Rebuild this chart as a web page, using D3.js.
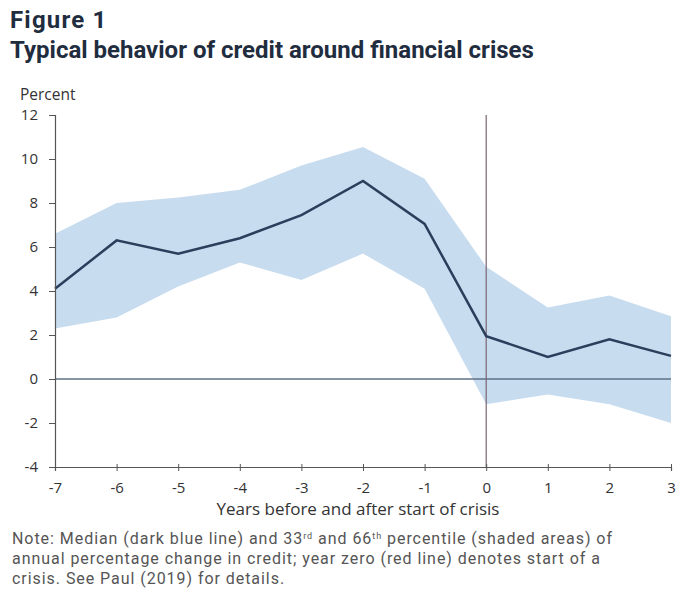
<!DOCTYPE html>
<html lang="en">
<head>
  <meta charset="UTF-8" />
  <title>Typical behavior of credit around financial crises</title>
  <script src="https://d3js.org/d3.v7.min.js"></script>
  <style>
    body { margin: 0; background: #fff; }
    svg { display: block; font-family: "Open Sans", Roboto, sans-serif; }
  </style>
</head>
<body>
  <svg id="chart" width="676" height="594"></svg>
  <script>
    // Data
    const years = [-7, -6, -5, -4, -3, -2, -1, 0, 1, 2, 3];
    const median = [4.1, 6.3, 5.7, 6.4, 7.45, 9.0, 7.05, 1.95, 1.0, 1.8, 1.05];
    const p66 = [6.6, 8.0, 8.25, 8.6, 9.7, 10.55, 9.1, 5.1, 3.25, 3.8, 2.85];
    const p33 = [2.3, 2.8, 4.2, 5.3, 4.5, 5.7, 4.1, -1.15, -0.7, -1.15, -2.0];
    const yTicks = [-4, -2, 0, 2, 4, 6, 8, 10, 12];

    const svg = d3.select("#chart"),
          margin = {top: 115, right: 5, bottom: 127, left: 55},
          width = 676 - margin.left - margin.right,
          height = 594 - margin.top - margin.bottom;

    const data = years.map((y, i) => ({year: y, med: median[i], lo: p33[i], hi: p66[i]}));

    const x = d3.scaleLinear().domain([-7, 3]).range([0, width]);
    const y = d3.scaleLinear().domain([-4, 12]).range([height, 0]);

    const chart = svg.append("g")
        .attr("transform", `translate(${margin.left},${margin.top})`);

    // Shaded band (33rd-66th percentile)
    chart.append("path")
        .datum(data)
        .attr("fill", "#c8dcef")
        .attr("d", d3.area()
          .x(d => x(d.year))
          .y0(d => y(d.lo))
          .y1(d => y(d.hi)));

    // Zero line
    chart.append("line")
        .attr("x1", 0).attr("x2", width)
        .attr("y1", y(0)).attr("y2", y(0))
        .attr("stroke", "#5f7086")
        .attr("stroke-width", 1.5);

    // Crisis start line
    chart.append("line")
        .attr("x1", x(0)).attr("x2", x(0))
        .attr("y1", 0).attr("y2", height)
        .attr("stroke", "#7a6470")
        .attr("stroke-width", 1.2);

    // Median line
    chart.append("path")
        .datum(data)
        .attr("fill", "none")
        .attr("stroke", "#2a3f5c")
        .attr("stroke-width", 2.5)
        .attr("d", d3.line().x(d => x(d.year)).y(d => y(d.med)));

    // Axes (plain hyphen for negatives, as in the original)
    const fmt = d => String(d);
    const yAxis = chart.append("g")
        .call(d3.axisLeft(y).tickValues(yTicks).tickSize(6).tickPadding(11).tickFormat(fmt));
    const xAxis = chart.append("g")
        .attr("transform", `translate(0,${height})`)
        .call(d3.axisBottom(x).tickValues(years).tickSize(4).tickPadding(11).tickFormat(fmt));

    [xAxis, yAxis].forEach(a => {
      a.select(".domain").attr("stroke", "#555").attr("stroke-width", 1.2);
      a.selectAll(".tick line").attr("stroke", "#555");
      a.selectAll("text").attr("font-size", 15).attr("fill", "#333")
        .attr("font-family", "'Open Sans', sans-serif");
    });
    xAxis.selectAll(".tick line").attr("y1", -3).attr("y2", 4);

    // Titles
    svg.append("text")
      .attr("x", 10).attr("y", 28)
      .attr("font-family", "Roboto, sans-serif")
      .attr("font-size", 24).attr("font-weight", "bold").attr("fill", "#1f2d3f")
      .attr("letter-spacing", 1.2)
      .text("Figure 1");
    svg.append("text")
      .attr("x", 10).attr("y", 58)
      .attr("font-family", "Roboto, sans-serif")
      .attr("font-size", 24).attr("font-weight", "bold").attr("fill", "#1f2d3f")
      .text("Typical behavior of credit around financial crises");
    svg.append("text")
      .attr("x", 20).attr("y", 100)
      .attr("font-size", 15.5).attr("fill", "#333")
      .text("Percent");

    // X-axis label
    svg.append("text")
      .attr("x", 358).attr("y", 515)
      .attr("text-anchor", "middle")
      .attr("font-size", 17).attr("fill", "#333")
      .text("Years before and after start of crisis");

    // Note
    const noteLines = [
      null,
      "annual percentage change in credit; year zero (red line) denotes start of a",
      "crisis. See Paul (2019) for details."
    ];
    const l1 = svg.append("text")
      .attr("x", 12).attr("y", 544)
      .attr("font-family", "Roboto, sans-serif")
      .attr("font-size", 16).attr("letter-spacing", 0.95).attr("fill", "#555");
    l1.append("tspan").text("Note: Median (dark blue line) and 33");
    l1.append("tspan").attr("font-size", 9).attr("baseline-shift", "super").text("rd");
    l1.append("tspan").text(" and 66");
    l1.append("tspan").attr("font-size", 9).attr("baseline-shift", "super").text("th");
    l1.append("tspan").text(" percentile (shaded areas) of");
    noteLines.forEach((t, i) => {
      if (!t) return;
      svg.append("text")
        .attr("x", 12).attr("y", 544 + i * 20)
        .attr("font-family", "Roboto, sans-serif")
        .attr("font-size", 16).attr("letter-spacing", 0.95).attr("fill", "#555")
        .text(t);
    });
  </script>
</body>
</html>
